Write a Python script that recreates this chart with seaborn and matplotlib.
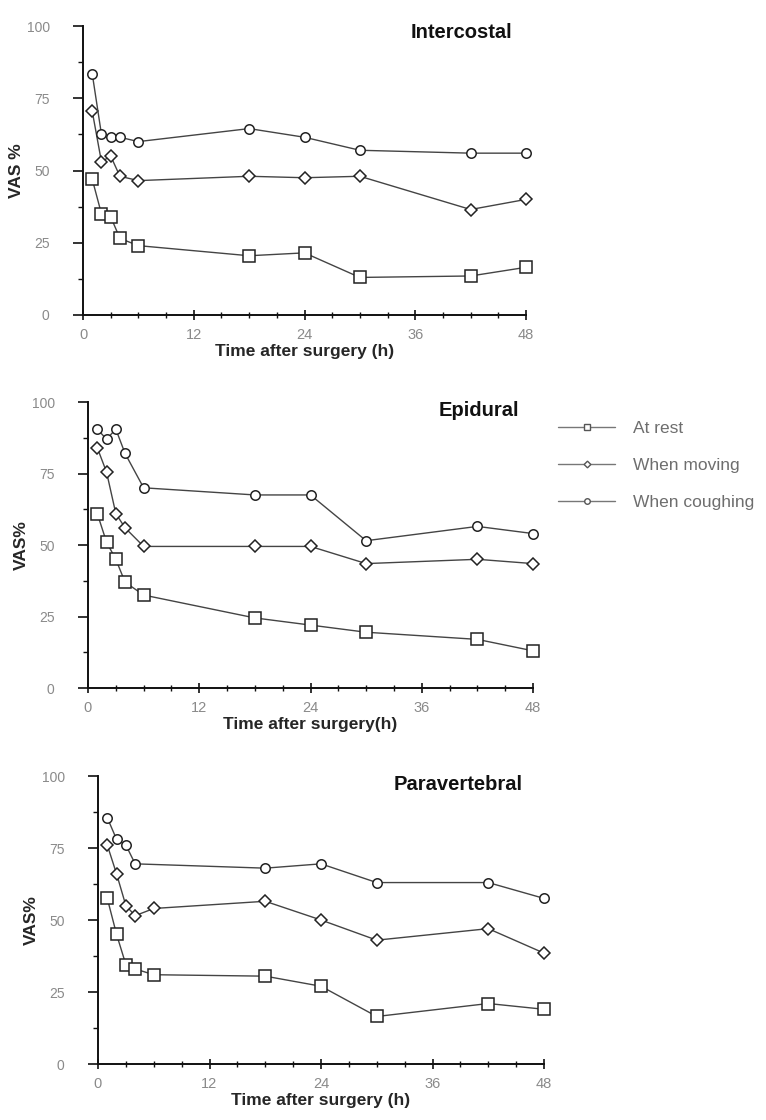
import numpy as np
import pandas as pd
import matplotlib
matplotlib.use("Agg")
import matplotlib.pyplot as plt
import seaborn as sns
from matplotlib.lines import Line2D
from matplotlib.ticker import MultipleLocator

# ---------------- data ----------------
times = [1, 2, 3, 4, 6, 18, 24, 30, 42, 48]
panels = ["Intercostal", "Epidural", "Paravertebral"]
conditions = ["At rest", "When moving", "When coughing"]
xlabels = ["Time after surgery (h)", "Time after surgery(h)", "Time after surgery (h)"]
ylabels = ["VAS %", "VAS%", "VAS%"]
x_ticks = [0, 12, 24, 36, 48]
y_ticks = [0, 25, 50, 75, 100]

intercostal_rest = [47, 35, 34, 26.5, 24, 20.5, 21.5, 13, 13.5, 16.5]
intercostal_moving = [70.5, 53, 55, 48, 46.5, 48, 47.5, 48, 36.5, 40]
intercostal_coughing = [83.5, 62.5, 61.5, 61.5, 60, 64.5, 61.5, 57, 56, 56]

epidural_rest = [61, 51, 45, 37, 32.5, 24.5, 22, 19.5, 17, 13]
epidural_moving = [84, 75.5, 61, 56, 49.5, 49.5, 49.5, 43.5, 45, 43.5]
epidural_coughing = [90.5, 87, 90.5, 82, 70, 67.5, 67.5, 51.5, 56.5, 54]

paravertebral_rest = [57.5, 45, 34.5, 33, 31, 30.5, 27, 16.5, 21, 19]
paravertebral_moving = [76, 66, 55, 51.5, 54, 56.5, 50, 43, 47, 38.5]
paravertebral_coughing = [85.5, 78, 76, 69.5, np.nan, 68, 69.5, 63, 63, 57.5]

series = {
    "Intercostal": [intercostal_rest, intercostal_moving, intercostal_coughing],
    "Epidural": [epidural_rest, epidural_moving, epidural_coughing],
    "Paravertebral": [paravertebral_rest, paravertebral_moving, paravertebral_coughing],
}

rows = []
for p in panels:
    for c, vals in zip(conditions, series[p]):
        for t, v in zip(times, vals):
            rows.append({"panel": p, "condition": c, "time": t, "vas": v})
df = pd.DataFrame(rows).dropna()

# ---------------- style ----------------
sns.set_style("ticks")
plt.rcParams["font.family"] = ["Liberation Sans", "DejaVu Sans"]

markers = {"At rest": "s", "When moving": "D", "When coughing": "o"}
msizes = {"At rest": 8.5, "When moving": 6.0, "When coughing": 6.8}
line_color = "#444444"
tick_color = "#8a8a8a"

fig = plt.figure(figsize=(7.66, 11.2), dpi=100)
W, H = 766, 1120
# axes boxes in pixels: left, right, top, bottom
boxes = [(83, 526, 26, 315), (88, 533, 402, 688), (98, 544, 776, 1064)]
title_pos = [(0.968, 0.978), (0.969, 0.972), (0.953, 0.969)]

for i, p in enumerate(panels):
    l, r, t, b = boxes[i]
    ax = fig.add_axes([l / W, 1 - b / H, (r - l) / W, (b - t) / H])
    sub_p = df[df.panel == p]
    for c in conditions:
        sub = sub_p[sub_p.condition == c]
        sns.lineplot(data=sub, x="time", y="vas", ax=ax, color=line_color,
                     lw=1.0, marker=markers[c], markersize=msizes[c],
                     markerfacecolor="white", markeredgecolor="#222222",
                     markeredgewidth=1.1, estimator=None, sort=False,
                     legend=False, clip_on=False, zorder=3)
    ax.set_xlim(0, 48)
    ax.set_ylim(0, 100)
    sns.despine(ax=ax)
    for s in ("left", "bottom"):
        ax.spines[s].set_linewidth(1.4)
        ax.spines[s].set_color("#111111")
    ax.set_xticks(x_ticks)
    ax.set_yticks(y_ticks)
    ax.xaxis.set_minor_locator(MultipleLocator(3))
    ax.yaxis.set_minor_locator(MultipleLocator(12.5))
    ax.tick_params(axis="x", which="major", direction="inout", length=7,
                   width=1.2, color="#111111", labelsize=10.5,
                   labelcolor=tick_color, pad=6)
    ax.tick_params(axis="x", which="minor", direction="inout", length=4,
                   width=1.0, color="#111111")
    ax.tick_params(axis="y", which="major", direction="out", length=7,
                   width=1.2, color="#111111", labelsize=10,
                   labelcolor=tick_color, pad=17)
    ax.tick_params(axis="y", which="minor", direction="out", length=3.5,
                   width=1.0, color="#111111")
    ax.set_xlabel(xlabels[i], fontsize=12.5, fontweight="bold", labelpad=1)
    ax.set_ylabel(ylabels[i], fontsize=12.5, fontweight="bold", labelpad=2)
    ax.text(title_pos[i][0], title_pos[i][1], p, transform=ax.transAxes,
            ha="right", va="center", fontsize=14.5, fontweight="bold",
            color="#111111")

handles = [
    Line2D([], [], color="#777777", lw=1.0, marker="s", markersize=4.5,
           markerfacecolor="white", markeredgecolor="#555555"),
    Line2D([], [], color="#777777", lw=1.0, marker="D", markersize=3.4,
           markerfacecolor="white", markeredgecolor="#555555"),
    Line2D([], [], color="#777777", lw=1.0, marker="o", markersize=4,
           markerfacecolor="white", markeredgecolor="#555555"),
]
leg = fig.legend(handles, conditions, loc="upper left",
                 bbox_to_anchor=(558 / W, 1 - 421 / H), frameon=False,
                 fontsize=12.5, handlelength=3.3, handletextpad=1.0,
                 labelspacing=1.25, borderpad=0, borderaxespad=0)
for txt in leg.get_texts():
    txt.set_color("#6e6e6e")

fig.savefig("out.png", dpi=100)
